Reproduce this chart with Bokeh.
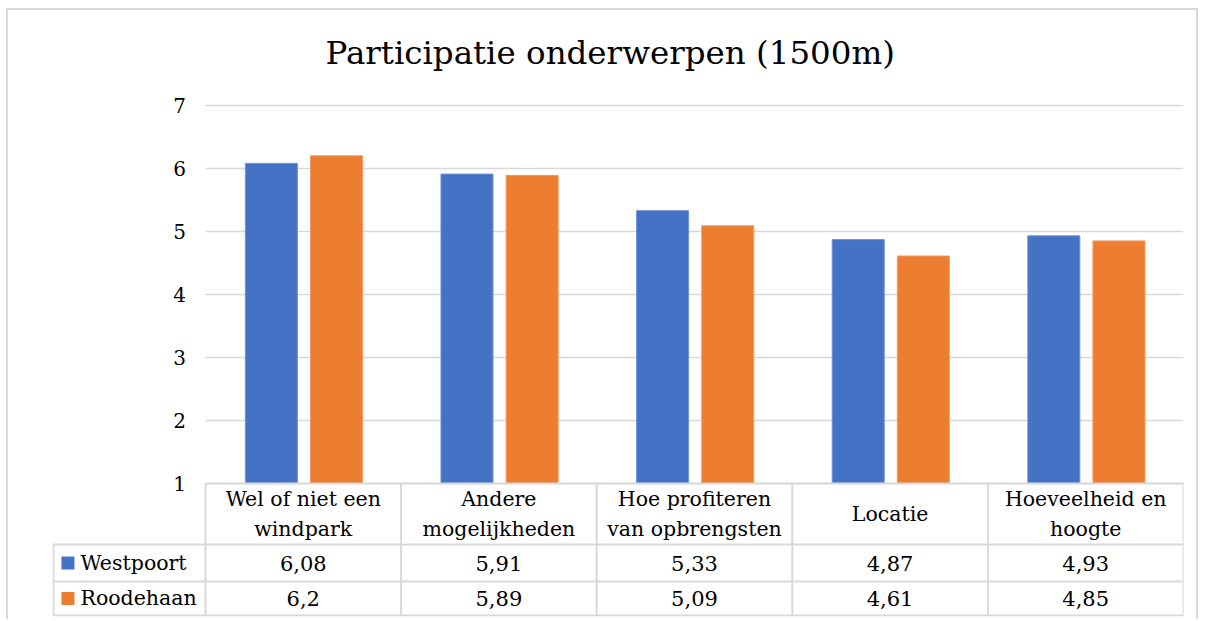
from bokeh.plotting import figure
from bokeh.models import Range1d, Title
from bokeh.core.properties import value
from bokeh.embed import file_html
from bokeh.resources import INLINE

categories = ["Wel of niet een\nwindpark", "Andere\nmogelijkheden", "Hoe profiteren\nvan opbrengsten",
              "Locatie", "Hoeveelheid en\nhoogte"]
series_names = ["Westpoort", "Roodehaan"]
westpoort = [6.08, 5.91, 5.33, 4.87, 4.93]
roodehaan = [6.2, 5.89, 5.09, 4.61, 4.85]
y_ticks = [1, 2, 3, 4, 5, 6, 7]

colors = ["#4472C4", "#ED7D31"]
FONT = "DejaVu Serif"
GRID = "#D9D9D9"

n = len(categories)
legend_left = -0.782
row_header_bottom = 0.032
row1_bottom = -0.556
table_bottom = -1.095

p = figure(width=1192, height=611, output_backend="svg", toolbar_location=None,
           x_range=Range1d(legend_left, n), y_range=Range1d(-1.111, 7.3),
           min_border_left=44, min_border_right=17, min_border_bottom=5, min_border_top=76)
p.xaxis.visible = False
p.yaxis.visible = False
p.xgrid.visible = False
p.ygrid.visible = False
p.outline_line_color = None
p.styles = {"margin-left": "6px", "margin-top": "8px",
            "border-left": "2px solid #D9D9D9", "border-top": "2px solid #D9D9D9",
            "border-right": "2px solid #D9D9D9"}

t = Title(text="Participatie onderwerpen (1500m)", align="left",
          text_font=FONT, text_font_size="32.5px", text_font_style="normal",
          text_color="#000000", standoff=29, offset=273)
p.add_layout(t, "above")

# gridlines
p.segment(x0=[0] * len(y_ticks), x1=[n] * len(y_ticks), y0=y_ticks, y1=y_ticks,
          line_color=GRID, line_width=1.5)
# y tick labels
p.text(x=[-0.1] * len(y_ticks), y=y_ticks, text=[str(v) for v in y_ticks],
       text_align="right", text_baseline="middle", text_font=value(FONT),
       text_font_size=value("20px"), text_color="#000000")

# bars
xs = list(range(n))
p.vbar(x=[i + 0.337 for i in xs], top=westpoort, bottom=1, width=0.266,
       fill_color=colors[0], line_color="#6F93D6", line_width=1)
p.vbar(x=[i + 0.670 for i in xs], top=roodehaan, bottom=1, width=0.266,
       fill_color=colors[1], line_color="#F29A5E", line_width=1)

# table lines
hy = [row_header_bottom, row1_bottom, table_bottom]
p.segment(x0=[legend_left] * 3, x1=[n] * 3, y0=hy, y1=hy, line_color=GRID, line_width=2)
p.segment(x0=[0], x1=[n], y0=[1], y1=[1], line_color=GRID, line_width=2)
vx = list(range(n + 1))
p.segment(x0=vx, x1=vx, y0=[1] * len(vx), y1=[table_bottom] * len(vx), line_color=GRID, line_width=2)
p.segment(x0=[legend_left + 0.005], x1=[legend_left + 0.005], y0=[row_header_bottom], y1=[table_bottom],
          line_color=GRID, line_width=2)

# header text
p.text(x=[i + 0.5 for i in xs], y=[0.51] * n, text=categories, text_align="center",
       text_baseline="middle", text_font=value(FONT), text_font_size=value("20.5px"),
       text_line_height=1.25, text_color="#000000")

def fmt(v):
    return f"{v:g}".replace(".", ",")

row_y = [-0.262, -0.825]
for vals, ry in zip([westpoort, roodehaan], row_y):
    p.text(x=[i + 0.5 for i in xs], y=[ry] * n, text=[fmt(v) for v in vals], text_align="center",
           text_baseline="middle", text_font=value(FONT), text_font_size=value("21px"),
           text_color="#000000")

# legend column
p.scatter(x=[-0.703] * 2, y=row_y, marker="square", size=13, fill_color=colors, line_color=None)
p.text(x=[-0.639] * 2, y=row_y, text=series_names, text_align="left", text_baseline="middle",
       text_font=value(FONT), text_font_size=value("20.5px"), text_color="#000000")

open("out.html", "w").write(file_html(p, INLINE))
